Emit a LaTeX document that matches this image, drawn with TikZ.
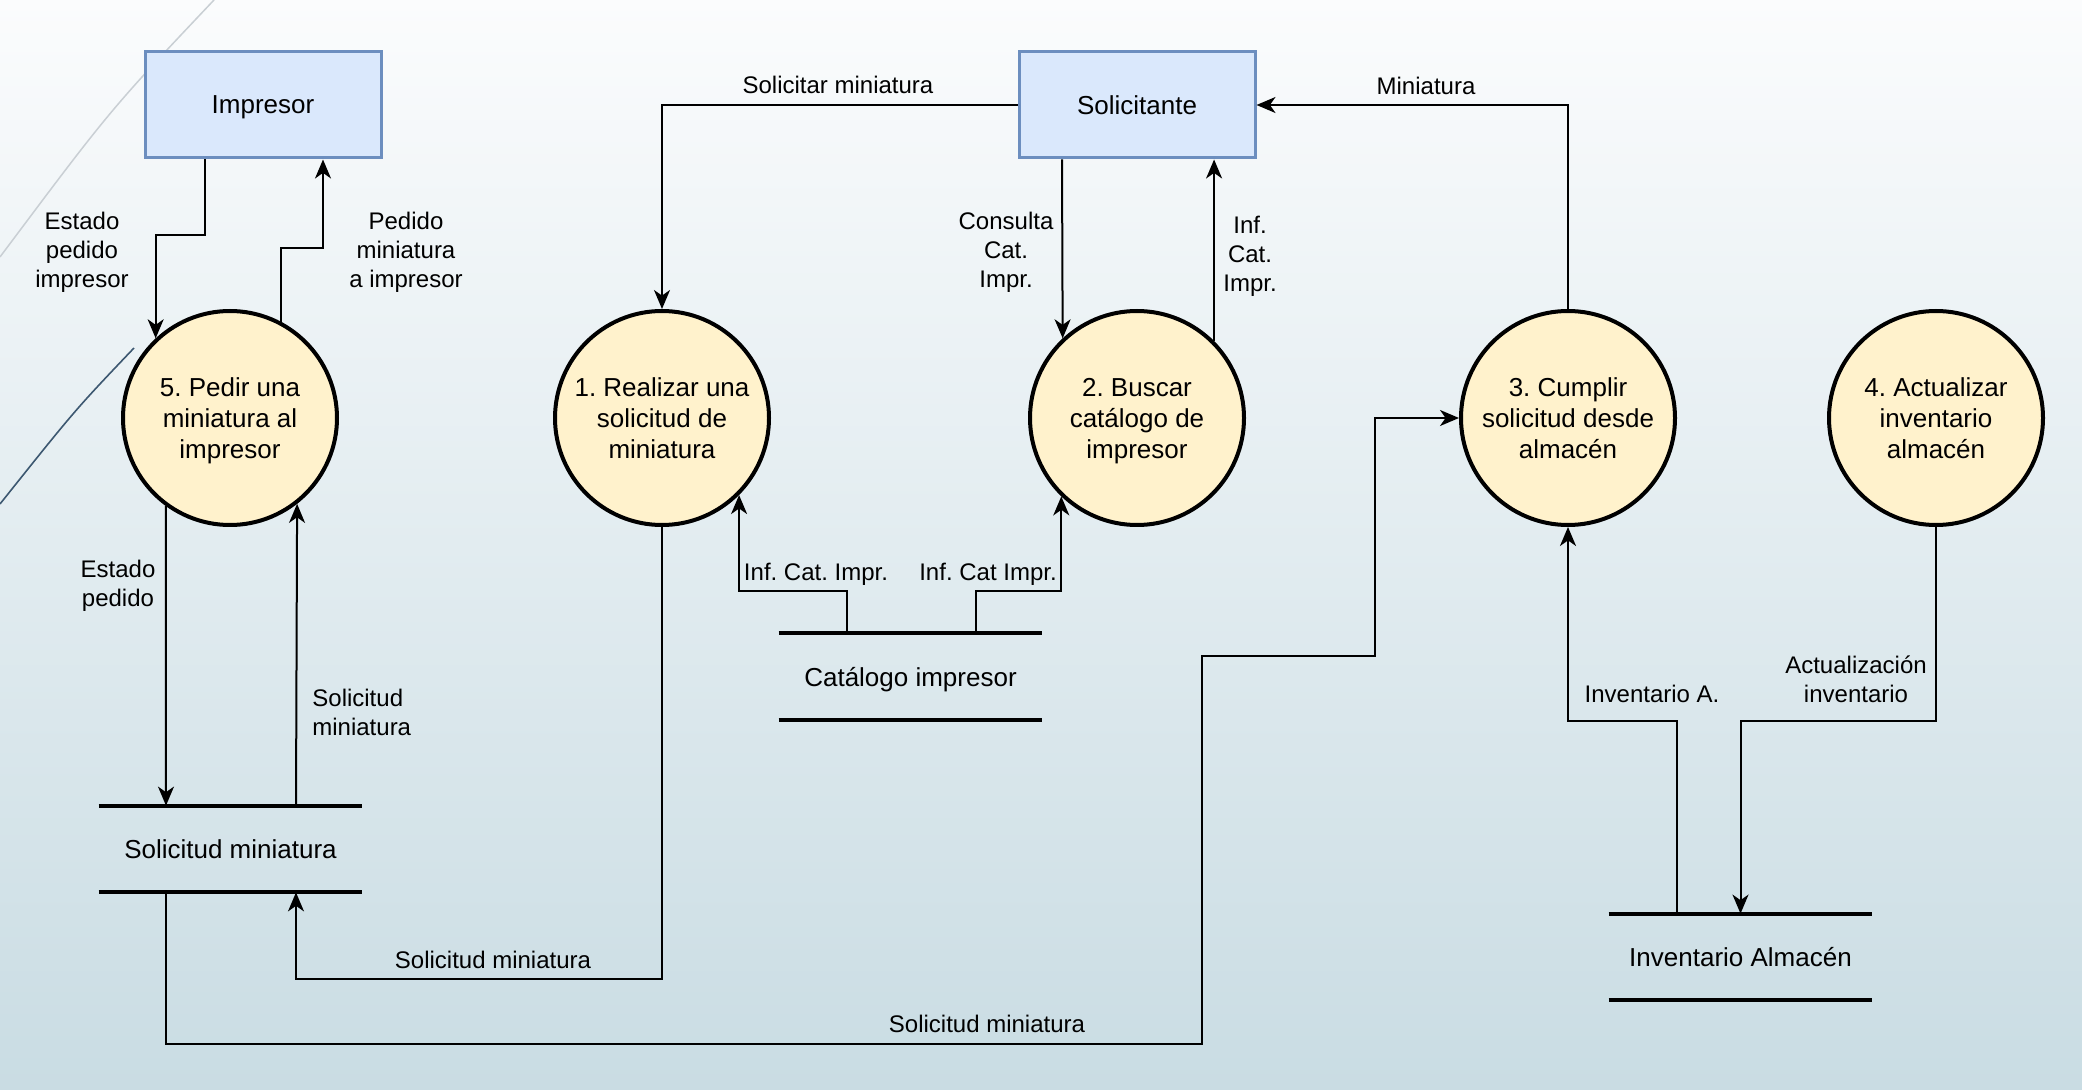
\documentclass[tikz,border=0pt]{standalone}
\usepackage{fontspec}
\setmainfont{Liberation Sans}
\frenchspacing
\usetikzlibrary{arrows.meta,positioning,calc}

\definecolor{entfill}{HTML}{DAE8FC}
\definecolor{entline}{HTML}{6C8EBF}
\definecolor{procfill}{HTML}{FFF2CC}
\definecolor{bgtop}{HTML}{FBFCFD}
\definecolor{bgbot}{HTML}{C9DCE3}
\definecolor{arcgray}{HTML}{C9CFD4}
\definecolor{arcdark}{HTML}{3D5871}

\begin{document}
\begin{tikzpicture}[
  x=0.5pt, y=-0.5pt,
  ent/.style={
    draw=entline, fill=entfill, line width=1.5pt,
    minimum width=118pt, minimum height=53pt, text depth=0pt,
    font=\fontsize{13}{15.5}\selectfont
  },
  proc/.style={
    circle, draw, fill=procfill, line width=2pt,
    minimum size=107pt, inner sep=0pt, align=center, text depth=0pt,
    font=\fontsize{13}{15.5}\selectfont
  },
  store/.style={
    minimum width=131.5pt, minimum height=43pt, inner sep=0pt,
    text depth=0pt, font=\fontsize{13}{15.5}\selectfont
  },
  bar/.style={line width=2pt},
  lbl/.style={align=center, inner sep=0pt, text depth=0pt,
    font=\fontsize{12}{14.5}\selectfont},
  flow/.style={-{Stealth[length=9.5pt,width=8pt,inset=2.8pt]}, line width=1pt},
]
%% background
\shade[top color=bgtop, bottom color=bgbot] (0,0) rectangle (2082,1090);
\useasboundingbox (0,0) rectangle (2082,1090);
\draw[arcgray, line width=0.75pt] (214,0) .. controls (110,110) .. (0,257);
\draw[arcdark, line width=0.8pt] (134,348) .. controls (75,410) .. (0,504);

%% external entities
\node[ent] (imp) at (263,105) {Impresor};
\node[ent] (sol) at (1137,105) {Solicitante};

%% processes
\node[proc] (c5) at (230,418) {5. Pedir una\\miniatura al\\impresor};
\node[proc] (c1) at (662,418) {1. Realizar una\\solicitud de\\miniatura};
\node[proc] (c2) at (1137,418) {2. Buscar\\catálogo de\\impresor};
\node[proc] (c3) at (1568,418) {3. Cumplir\\solicitud desde\\almacén};
\node[proc] (c4) at (1936,418) {4. Actualizar\\inventario\\almacén};

%% data stores
\node[store] (sm) at (230.5,849) {Solicitud miniatura};
\node[store] (cat) at (910.5,676.5) {Catálogo impresor};
\node[store] (inv) at (1740.5,957) {Inventario Almacén};
\foreach \s in {sm,cat,inv}{
  \draw[bar] (\s.north west) -- (\s.north east);
  \draw[bar] (\s.south west) -- (\s.south east);
}

%% Impresor <-> 5
\draw[flow] ([xshift=-29pt]imp.south) -- ++(0,76) -| (c5.133.5);
\draw[flow] (c5.62.7) -- ++(0,-74) -| ([xshift=30pt]imp.south);

%% Solicitante <-> 1, 2, 3
\draw[flow] (sol.west) -| (c1.north);
\draw[flow] ([xshift=-37.5pt]sol.south) -- (c2.133.5);
\draw[flow] (c2.45) -- (c2.45 |- sol.south);
\draw[flow] (c3.north) |- (sol.east);

%% Solicitud miniatura store
\draw[flow] (c1.south) -- ++(0,452) -| ([xshift=32.75pt]sm.south);
\draw[flow] ([xshift=-32.25pt]sm.south) -- ++(0,152) -- ++(1036,0)
  -- ++(0,-388) -- ++(173,0) |- (c3.west);
\draw[flow] (c5.-126) -- ([xshift=-32.25pt]sm.north);
\draw[flow] ([xshift=32.75pt]sm.north) -- (c5.-52.7);

%% Catalogo impresor store
\draw[flow] ([xshift=-31.75pt]cat.north) -- ++(0,-42) -| (c1.-45);
\draw[flow] ([xshift=32.75pt]cat.north) -- ++(0,-42) -| (c2.-134.2);

%% Inventario store
\draw[flow] ([xshift=-31.75pt]inv.north) -- ++(0,-193) -| (c3.south);
\draw[flow] (c4.south) -- ++(0,194) -| (inv.north);

%% flow labels
\node[lbl] (lEst) at (82,250) {Estado\\pedido\\impresor};
\node[lbl] (lPed) at (406,250) {Pedido\\miniatura\\a impresor};
\node[lbl] (lSol) at (838,85) {Solicitar miniatura};
\node[lbl] (lCon) at (1006,250) {Consulta\\Cat.\\Impr.};
\node[lbl] (lInf) at (1250,254) {Inf.\\Cat.\\Impr.};
\node[lbl] (lMin) at (1426,86) {Miniatura};
\node[lbl] (lEp) at (118,583) {Estado\\pedido};
\node[lbl, align=left, anchor=west] (lSm) at (312,712) {Solicitud\\miniatura};
\node[lbl] (lSm1) at (493,960) {Solicitud miniatura};
\node[lbl] (lSm3) at (987,1024) {Solicitud miniatura};
\node[lbl] (lCat1) at (816,572) {Inf. Cat. Impr.};
\node[lbl] (lCat2) at (988,572) {Inf. Cat Impr.};
\node[lbl] (lInv) at (1652,694) {Inventario A.};
\node[lbl] (lAct) at (1856,679) {Actualización\\inventario};
\end{tikzpicture}
\end{document}
